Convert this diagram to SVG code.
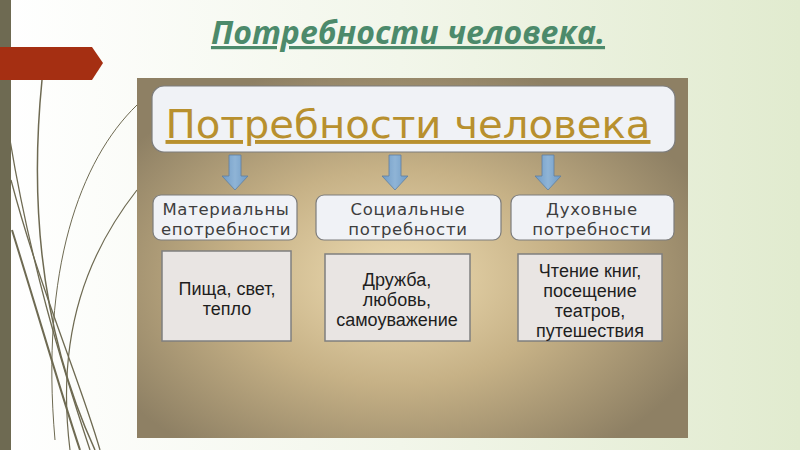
<svg xmlns="http://www.w3.org/2000/svg" width="800" height="450" viewBox="0 0 800 450">
<defs>
<linearGradient id="bg" x1="0" y1="0" x2="1" y2="0">
<stop offset="0" stop-color="#ffffff"/><stop offset="0.5" stop-color="#f2f6ea"/><stop offset="1" stop-color="#e1ebcf"/>
</linearGradient>
<radialGradient id="panel" cx="0.47" cy="0.55" r="0.6">
<stop offset="0" stop-color="#eedcb2"/><stop offset="0.5" stop-color="#c6b186"/><stop offset="1" stop-color="#8e8064"/>
</radialGradient>
<linearGradient id="arr" x1="0" y1="0" x2="1" y2="0">
<stop offset="0" stop-color="#6f9bc6"/><stop offset="0.5" stop-color="#8fb4d6"/><stop offset="1" stop-color="#6f9bc6"/>
</linearGradient>
<path id="dn" d="M-6,0 h12 v21 h7 l-13,14 l-13,-14 h7 z"/>
</defs>
<style>
.cat{fill:#f0f2f6;stroke:#7c7c7c;stroke-width:1.2}
.item{fill:#e9e5e3;stroke:#7f7f7f;stroke-width:1.5}
.t{font-family:"DejaVu Sans",Verdana,sans-serif;font-size:16.5px;letter-spacing:0.7px;fill:#3e3e3e;text-anchor:middle}
.s{font-family:"Liberation Sans",Arial,sans-serif;font-size:18px;fill:#1e1e1e;text-anchor:middle}
.a{fill:url(#arr);stroke:#5f7f9e;stroke-width:0.8}
.curve{fill:none;stroke:#6e6a52}
</style>
<rect width="800" height="450" fill="url(#bg)"/>
<g id="decor">
<rect x="0" y="0" width="11" height="450" fill="#6e6a52"/>
<path class="curve" stroke-width="1.5" d="M42,80 C30,200 40,330 95,450"/>
<path class="curve" stroke-width="1.3" d="M10,140 C30,260 60,360 90,450"/>
<path class="curve" stroke-width="1.3" d="M11,180 C40,290 80,380 100,450"/>
<path class="curve" stroke-width="1.2" d="M137,190 C90,250 55,330 70,450"/>
<path class="curve" stroke-width="1" stroke="#cfd3c4" d="M137,105 C80,160 40,270 55,440"/>
<path class="curve" stroke-width="2" stroke="#d9dccd" d="M12,230 C40,320 60,390 80,450"/>
<polygon points="0,47 92,47 103,63 92,80 0,80" fill="#a52f12"/>
</g>
<text x="408" y="44" font-family="'Open Sans','Noto Sans',sans-serif" font-size="32" font-weight="bold" font-style="italic" fill="#4c8a6b" text-anchor="middle" text-decoration="underline">Потребности человека.</text>
<g id="panel-bg">
<rect x="137" y="78" width="551" height="360" fill="url(#panel)"/>
</g>
<g id="root">
<rect x="152" y="86" width="523" height="66" rx="12" class="cat"/>
<text x="408" y="138" font-family="'DejaVu Sans',Verdana,sans-serif" font-size="39" fill="#b8902e" text-anchor="middle" text-decoration="underline" textLength="485" lengthAdjust="spacingAndGlyphs">Потребности человека</text>
</g>
<g id="connectors">
<use href="#dn" x="235" y="155" class="a"/>
<use href="#dn" x="395" y="155" class="a"/>
<use href="#dn" x="548" y="155" class="a"/>
</g>
<g id="cat1">
<rect x="153" y="195" width="144" height="45" rx="8" class="cat"/>
<text class="t" x="226" y="215">Материальны</text>
<text class="t" x="226" y="235">епотребности</text>
</g>
<g id="cat2">
<rect x="316" y="195" width="185" height="45" rx="8" class="cat"/>
<text class="t" x="408" y="215">Социальные</text>
<text class="t" x="408" y="235">потребности</text>
</g>
<g id="cat3">
<rect x="511" y="195" width="163" height="45" rx="8" class="cat"/>
<text class="t" x="592" y="215">Духовные</text>
<text class="t" x="592" y="235">потребности</text>
</g>
<g id="item1">
<rect x="162" y="251" width="129" height="90" class="item"/>
<text class="s" x="227" y="295">Пища, свет,</text>
<text class="s" x="227" y="315">тепло</text>
</g>
<g id="item2">
<rect x="325" y="254" width="145" height="87" class="item"/>
<text class="s" x="397" y="286">Дружба,</text>
<text class="s" x="397" y="306">любовь,</text>
<text class="s" x="397" y="326">самоуважение</text>
</g>
<g id="item3">
<rect x="518" y="254" width="144" height="87" class="item"/>
<text class="s" x="590" y="277">Чтение книг,</text>
<text class="s" x="590" y="297">посещение</text>
<text class="s" x="590" y="317">театров,</text>
<text class="s" x="590" y="337">путешествия</text>
</g>
</svg>
